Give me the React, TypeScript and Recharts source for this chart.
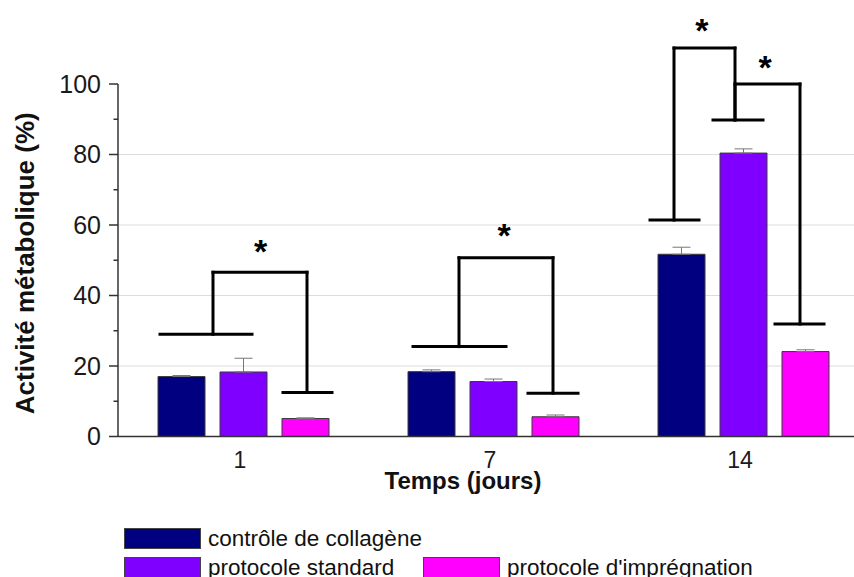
import { BarChart, Bar, XAxis, YAxis, CartesianGrid, ErrorBar, ReferenceLine, ReferenceDot, Legend, Label } from 'recharts';

const FONT = '"Liberation Sans", Arial, sans-serif';

// valeurs (%)
const days = ['1', '7', '14'];
const controle = [17.0, 18.4, 51.7];
const standard = [18.3, 15.6, 80.4];
const impregnation = [5.1, 5.6, 24.1];
const controleErr = [0.3, 0.5, 2.0];
const standardErr = [3.9, 0.7, 1.2];
const impregnationErr = [0.2, 0.5, 0.5];

const seriesNames = ['contrôle de collagène', 'protocole standard', "protocole d'imprégnation"];
const seriesColors = ['#000080', '#8000ff', '#ff00ff'];

const yTicks = [0, 10, 20, 30, 40, 50, 60, 70, 80, 90, 100];
const gridValues = [20, 40, 60, 80];

// significance brackets, x in category units (group i spans i..i+1), y in %
const brackets = [
  { leftCap: [0.168, 0.536], leftX: 0.38, leftY: 29.0, top: 46.6, rightX: 0.756, rightY: 12.5, rightCap: [0.66, 0.856] },
  { leftCap: [1.18, 1.552], leftX: 1.364, leftY: 25.5, top: 50.7, rightX: 1.74, rightY: 12.3, rightCap: [1.64, 1.84] },
  { leftCap: [2.128, 2.324], leftX: 2.224, leftY: 61.4, top: 110.2, rightX: 2.468, rightY: 89.8, rightCap: [2.38, 2.58] },
  { leftCap: null, leftX: 2.468, leftY: 89.8, top: 100, rightX: 2.728, rightY: 31.9, rightCap: [2.628, 2.824] },
];
const stars = [
  { x: 0.57, y: 54.6 },
  { x: 1.544, y: 59.2 },
  { x: 2.335, y: 117.3 },
  { x: 2.588, y: 106.9 },
];

const positions = days.map((_, i) => i + 0.5);

const data = days.map((day, i) => ({
  day,
  pos: positions[i],
  controle: controle[i],
  standard: standard[i],
  impregnation: impregnation[i],
  controleErr: [0, controleErr[i]],
  standardErr: [0, standardErr[i]],
  impregnationErr: [0, impregnationErr[i]],
}));

function bracketSegments(b: any) {
  const segs: any[] = [];
  if (b.leftCap) segs.push([{ x: b.leftCap[0], y: b.leftY }, { x: b.leftCap[1], y: b.leftY }]);
  segs.push([{ x: b.leftX, y: b.leftY }, { x: b.leftX, y: b.top }]);
  segs.push([{ x: b.leftX, y: b.top }, { x: b.rightX, y: b.top }]);
  segs.push([{ x: b.rightX, y: b.top }, { x: b.rightX, y: b.rightY }]);
  segs.push([{ x: b.rightCap[0], y: b.rightY }, { x: b.rightCap[1], y: b.rightY }]);
  return segs;
}
const segments = brackets.flatMap(bracketSegments);

function YTick(props: any) {
  const { x, y, payload } = props;
  const major = payload.value % 20 === 0;
  return (
    <g>
      <line x1={x + (major ? 8 : 12.5)} x2={x + 17} y1={y} y2={y} stroke="#333" strokeWidth={1.5} />
      {major && (
        <text x={x} y={y} dy="0.355em" textAnchor="end" fontSize={25} fill="#1a1a1a" fontFamily={FONT}>
          {payload.value}
        </text>
      )}
    </g>
  );
}

function XTick(props: any) {
  const { x, y, payload } = props;
  const idx = positions.indexOf(payload.value);
  return (
    <text x={x - 3} y={y} dy="0.71em" textAnchor="middle" fontSize={23} fill="#1a1a1a" fontFamily={FONT}>
      {idx >= 0 ? days[idx] : ''}
    </text>
  );
}

function LegendContent(props: any) {
  const payload = props.payload ?? [];
  const items = seriesNames.map((name, i) => payload.find((p: any) => p.value === name) ?? { value: name, color: seriesColors[i] });
  return (
    <div style={{ position: 'relative', width: 854, height: 50, fontFamily: FONT, fontSize: 22.5, color: '#111' }}>
      {items.map((it: any, i: number) => {
        const row = i === 0 ? 0 : 1;
        const col = i === 2 ? 1 : 0;
        return (
          <div
            key={i}
            style={{ position: 'absolute', left: 124 + col * 299, top: row * 29, display: 'flex', alignItems: 'center', height: 21, lineHeight: '21px', whiteSpace: 'nowrap' }}
          >
            <span style={{ display: 'inline-block', width: 75, height: 19, background: it.color, border: '1px solid #444', marginRight: 7 }} />
            <span>{it.value}</span>
          </div>
        );
      })}
    </div>
  );
}

export default function App() {
  return (
    <div style={{ position: 'absolute', left: 0, top: 0, width: 854, height: 577, overflow: 'hidden', background: '#fff' }}>
      <BarChart width={870} height={577} data={data} margin={{ top: 84, right: 2, left: 0, bottom: 100.5 }} barGap={15}>
        <CartesianGrid horizontal vertical={false} horizontalValues={gridValues} stroke="#dcdcdc" strokeWidth={1} />
        <XAxis
          dataKey="pos"
          type="number"
          domain={[0, 3]}
          ticks={positions}
          interval={0}
          height={40}
          tickLine={false}
          tickSize={8}
          tickMargin={7.5}
          axisLine={{ stroke: '#333', strokeWidth: 1.5 }}
          tick={<XTick />}
        >
          <Label
            content={(p: any) => {
              const vb = p.viewBox ?? { x: 118, y: 436.5 };
              return (
                <text x={vb.x + 345} y={vb.y + 52} textAnchor="middle" fontSize={24} fontWeight="bold" fill="#111" fontFamily={FONT}>
                  Temps (jours)
                </text>
              );
            }}
          />
        </XAxis>
        <YAxis
          width={118}
          domain={[0, 100]}
          ticks={yTicks}
          interval={0}
          tickLine={false}
          tickSize={9}
          tickMargin={8}
          axisLine={{ stroke: '#333', strokeWidth: 1.5 }}
          tick={<YTick />}
        >
          <Label
            content={(p: any) => {
              const vb = p.viewBox ?? { x: 0, y: 84, height: 352.5 };
              const cx = vb.x + 25;
              const cy = vb.y + vb.height / 2 + 3;
              return (
                <text x={cx} y={cy} dy="0.355em" transform={`rotate(-90, ${cx}, ${cy})`} textAnchor="middle" fontSize={26} fontWeight="bold" fill="#111" fontFamily={FONT}>
                  Activité métabolique (%)
                </text>
              );
            }}
          />
        </YAxis>
        <Legend layout="horizontal" verticalAlign="middle" align="center" wrapperStyle={{ position: 'absolute', left: 0, top: 527.5, width: 854, height: 50 }} content={<LegendContent />} />
        <Bar dataKey="controle" name={seriesNames[0]} fill={seriesColors[0]} stroke="#3a3a3a" strokeWidth={1} barSize={47} isAnimationActive={false}>
          <ErrorBar dataKey="controleErr" width={9} stroke="#777" strokeWidth={1} direction="y" />
        </Bar>
        <Bar dataKey="standard" name={seriesNames[1]} fill={seriesColors[1]} stroke="#3a3a3a" strokeWidth={1} barSize={47} isAnimationActive={false}>
          <ErrorBar dataKey="standardErr" width={9} stroke="#777" strokeWidth={1} direction="y" />
        </Bar>
        <Bar dataKey="impregnation" name={seriesNames[2]} fill={seriesColors[2]} stroke="#3a3a3a" strokeWidth={1} barSize={47} isAnimationActive={false}>
          <ErrorBar dataKey="impregnationErr" width={9} stroke="#777" strokeWidth={1} direction="y" />
        </Bar>
        {segments.map((seg, i) => (
          <ReferenceLine key={`s${i}`} segment={seg} stroke="#000" strokeWidth={3} strokeLinecap="square" ifOverflow="visible" />
        ))}
        {stars.map((s, i) => (
          <ReferenceDot
            key={`a${i}`}
            x={s.x}
            y={s.y}
            r={0}
            ifOverflow="visible"
            shape={(p: any) => (
              <text x={p.cx} y={p.cy + 19} textAnchor="middle" fontSize={34} fontWeight="bold" fill="#000" fontFamily={FONT}>
                *
              </text>
            )}
          />
        ))}
      </BarChart>
    </div>
  );
}
